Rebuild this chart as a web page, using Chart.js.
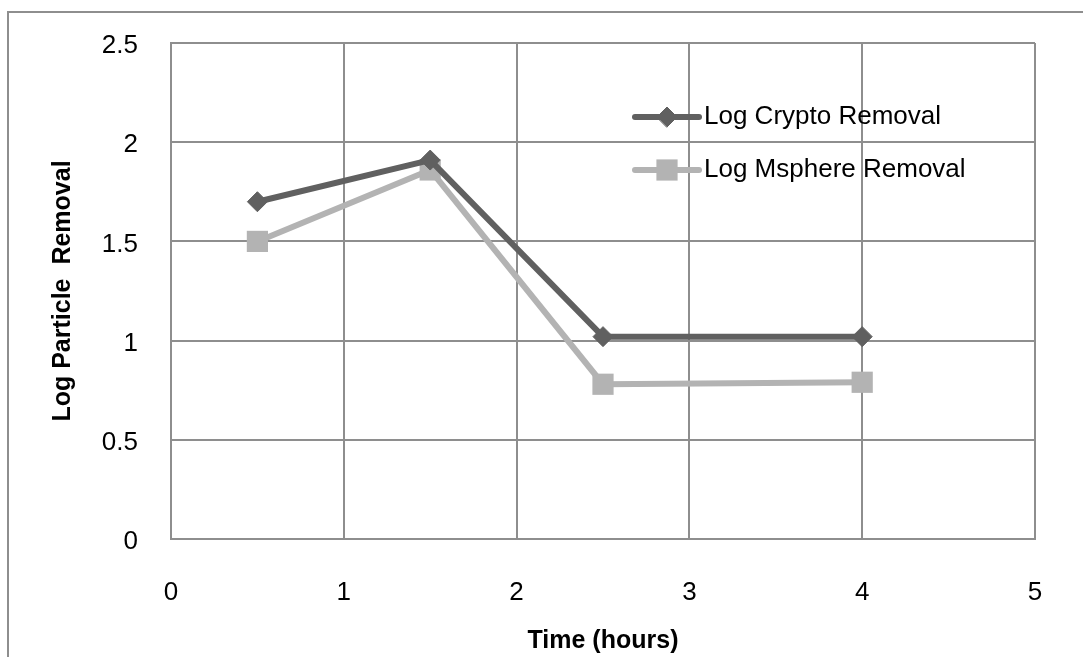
<!DOCTYPE html>
<html>
<head>
<meta charset="utf-8">
<script src="https://cdn.jsdelivr.net/npm/chart.js@4"></script>
<style>
  html, body { margin: 0; padding: 0; background: #ffffff; }
  #wrap { width: 1083px; height: 657px; position: relative; }
</style>
</head>
<body>
<div id="wrap"><canvas id="chart" width="1083" height="657"></canvas></div>
<script>
// Sampling times (hours) and log removal values for each particle type
const hours = [0.5, 1.5, 2.5, 4];
const logCryptoRemoval = [1.70, 1.91, 1.02, 1.02];
const logMsphereRemoval = [1.50, 1.86, 0.78, 0.79];

// Axis tick values and their labels
const xTickValues = [0, 1, 2, 3, 4, 5];
const xTickLabels = ['0', '1', '2', '3', '4', '5'];
const yTickValues = [0, 0.5, 1, 1.5, 2, 2.5];
const yTickLabels = ['0', '0.5', '1', '1.5', '2', '2.5'];

const FONT = "'Liberation Sans', Arial, sans-serif";
const GRID = '#8e8e8e';
const NONE = 'rgba(0,0,0,0)';

function toPoints(xs, ys) {
  return xs.map((x, i) => ({ x: x, y: ys[i] }));
}

// Outer frame around the whole figure
const framePlugin = {
  id: 'frame',
  beforeDraw(chart) {
    const ctx = chart.ctx;
    ctx.save();
    ctx.fillStyle = '#ffffff';
    ctx.fillRect(0, 0, chart.width, chart.height);
    ctx.strokeStyle = GRID;
    ctx.lineWidth = 2;
    ctx.beginPath();
    ctx.moveTo(8, chart.height + 5);
    ctx.lineTo(8, 12);
    ctx.lineTo(chart.width + 5, 12);
    ctx.stroke();
    ctx.restore();
  }
};

// Legend drawn inside the plot, upper right
const insideLegend = {
  id: 'insideLegend',
  afterDraw(chart) {
    const ctx = chart.ctx;
    const rows = [117, 170];
    const x0 = 635, x1 = 699, tx = 704;
    ctx.save();
    chart.data.datasets.forEach((ds, i) => {
      const y = rows[i];
      ctx.strokeStyle = ds.borderColor;
      ctx.lineWidth = ds.borderWidth;
      ctx.lineCap = 'round';
      ctx.beginPath();
      ctx.moveTo(x0, y);
      ctx.lineTo(x1, y);
      ctx.stroke();
      ctx.fillStyle = ds.pointBackgroundColor;
      ctx.strokeStyle = ds.pointBorderColor;
      ctx.lineWidth = ds.pointBorderWidth || 1;
      Chart.helpers.drawPoint(ctx, {
        pointStyle: ds.pointStyle,
        radius: ds.pointRadius,
        borderWidth: ds.pointBorderWidth,
        rotation: 0
      }, (x0 + x1) / 2, y);
      ctx.fillStyle = '#000000';
      ctx.font = '26px ' + FONT;
      ctx.textAlign = 'left';
      ctx.textBaseline = 'middle';
      ctx.fillText(ds.label, tx, y);
    });
    ctx.restore();
  }
};

new Chart(document.getElementById('chart'), {
  type: 'line',
  data: {
    datasets: [
      {
        label: 'Log Crypto Removal',
        data: toPoints(hours, logCryptoRemoval),
        borderColor: '#606060',
        backgroundColor: '#606060',
        borderWidth: 6,
        borderCapStyle: 'round',
        borderJoinStyle: 'round',
        pointStyle: 'rectRot',
        pointRadius: 10,
        pointBorderWidth: 1,
        pointBackgroundColor: '#606060',
        pointBorderColor: '#606060',
        tension: 0
      },
      {
        label: 'Log Msphere Removal',
        data: toPoints(hours, logMsphereRemoval),
        borderColor: '#b3b3b3',
        backgroundColor: '#b3b3b3',
        borderWidth: 6,
        borderCapStyle: 'round',
        borderJoinStyle: 'round',
        pointStyle: 'rect',
        pointRadius: 15,
        pointBorderWidth: 0,
        pointBackgroundColor: '#b3b3b3',
        pointBorderColor: '#b3b3b3',
        tension: 0
      }
    ]
  },
  options: {
    responsive: false,
    animation: false,
    devicePixelRatio: 1,
    layout: { padding: { left: 0, top: 43, right: 48, bottom: 0 } },
    plugins: {
      legend: { display: false },
      tooltip: { enabled: false }
    },
    scales: {
      x: {
        type: 'linear',
        min: 0,
        max: 5,
        afterBuildTicks(scale) { scale.ticks = xTickValues.map(v => ({ value: v })); },
        afterFit(scale) { scale.height = 118; },
        grid: { color: GRID, lineWidth: 2, drawTicks: true, tickLength: 38, tickColor: NONE },
        border: { color: GRID, width: 2 },
        ticks: {
          color: '#000000',
          font: { family: FONT, size: 26 },
          padding: 0,
          maxRotation: 0,
          callback: (v, i) => xTickLabels[i]
        },
        title: {
          display: true,
          text: 'Time (hours)',
          color: '#000000',
          font: { family: FONT, size: 25, weight: 'bold' },
          padding: { top: 0, bottom: 1 }
        }
      },
      y: {
        type: 'linear',
        min: 0,
        max: 2.5,
        afterBuildTicks(scale) { scale.ticks = yTickValues.map(v => ({ value: v })); },
        afterFit(scale) { scale.width = 171; },
        grid: { color: GRID, lineWidth: 2, drawTicks: true, tickLength: 33, tickColor: NONE },
        border: { color: GRID, width: 2 },
        ticks: {
          color: '#000000',
          font: { family: FONT, size: 26 },
          padding: 0,
          labelOffset: 3,
          callback: (v, i) => yTickLabels[i]
        },
        title: {
          display: true,
          text: 'Log Particle  Removal',
          color: '#000000',
          font: { family: FONT, size: 25, weight: 'bold' },
          padding: { top: 48, bottom: 0 }
        }
      }
    }
  },
  plugins: [framePlugin, insideLegend]
});
</script>
</body>
</html>
